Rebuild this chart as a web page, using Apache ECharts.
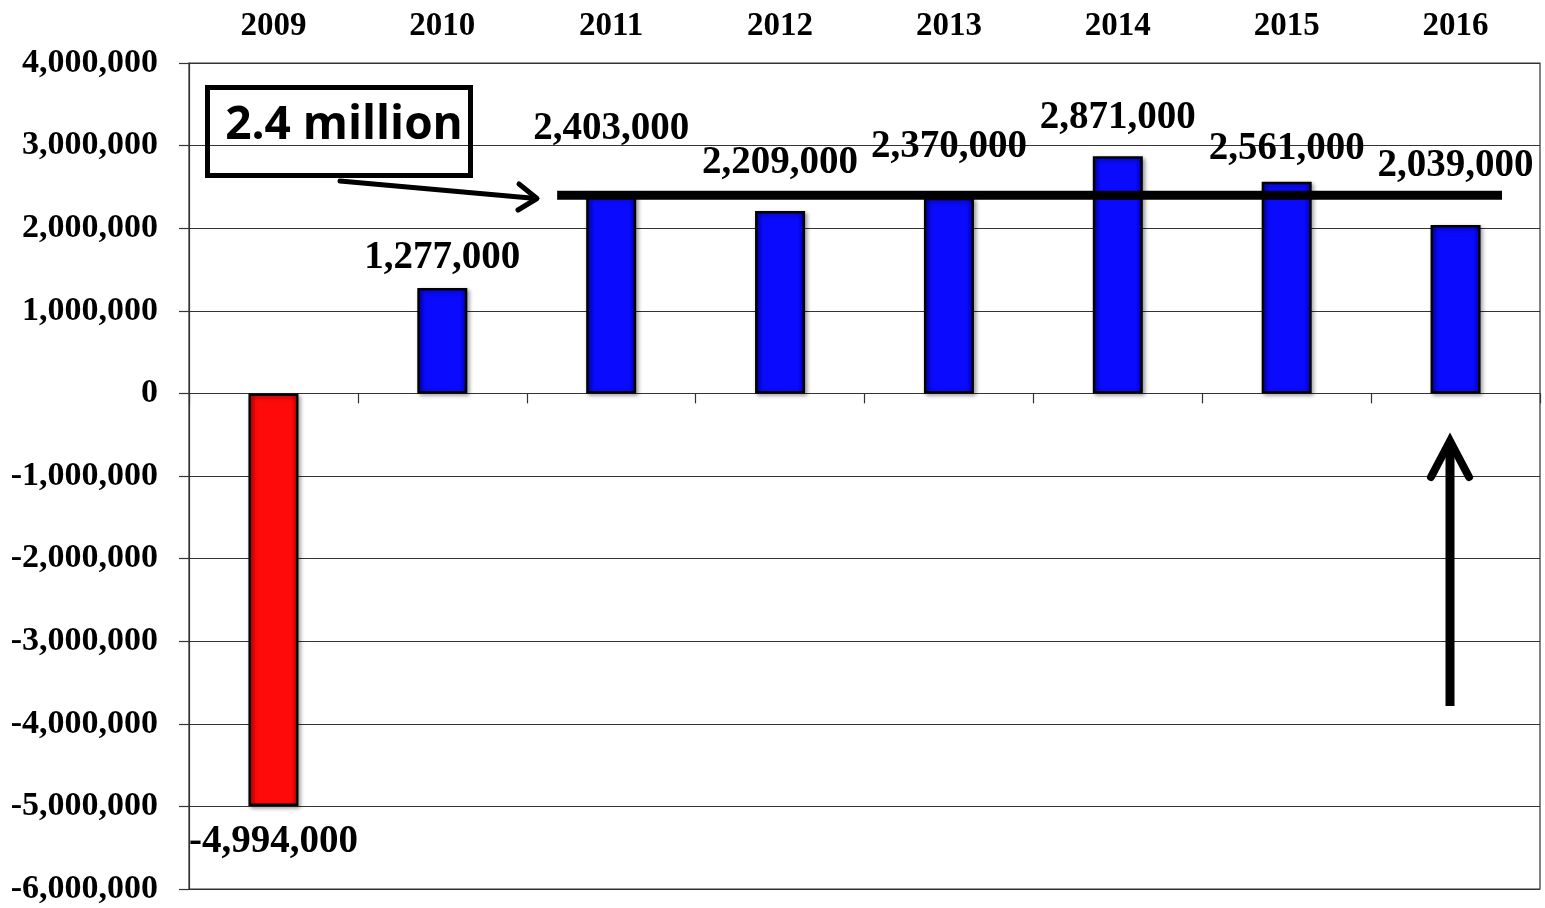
<!DOCTYPE html>
<html>
<head>
<meta charset="utf-8">
<script src="https://cdn.jsdelivr.net/npm/echarts@6/dist/echarts.min.js"></script>
<style>
  html, body { margin: 0; padding: 0; background: #fff; }
  #chart { width: 1545px; height: 908px; }
</style>
</head>
<body>
<div id="chart"></div>
<script>
// ---- data ----
const years = ['2009', '2010', '2011', '2012', '2013', '2014', '2015', '2016'];
const changes = [-4994000, 1277000, 2403000, 2209000, 2370000, 2871000, 2561000, 2039000];
const yTicks = { min: -6000000, max: 4000000, step: 1000000 };
const averageValue = 2400000;
const averageSpan = [2.18, 7.775];          // in category-index units
const annotationText = '2.4 million';

// ---- label nudges (style only) ----
const labelGap = [17, 10, 46, 29, 31, 19, 13, 40];

const fmt = v => Number(v).toLocaleString('en-US');
const serif = '"Liberation Serif", "Times New Roman", serif';

const chart = echarts.init(document.getElementById('chart'));

const barData = changes.map((v, i) => ({
  value: v,
  itemStyle: {
    color: v < 0
      ? new echarts.graphic.LinearGradient(0, 0, 1, 0, [
          { offset: 0, color: '#c00000' }, { offset: 0.15, color: '#ff0a0a' },
          { offset: 0.85, color: '#ff0a0a' }, { offset: 1, color: '#c00000' }])
      : new echarts.graphic.LinearGradient(0, 0, 1, 0, [
          { offset: 0, color: '#0000b8' }, { offset: 0.15, color: '#0a0aff' },
          { offset: 0.85, color: '#0a0aff' }, { offset: 1, color: '#0000b8' }])
  },
  label: {
    position: v < 0 ? 'bottom' : 'top',
    distance: labelGap[i]
  }
}));

const option = {
  backgroundColor: '#ffffff',
  animation: false,
  grid: {
    left: 189, right: 5, top: 63, bottom: 19,
    show: true, borderColor: '#333', borderWidth: 1.2, backgroundColor: 'transparent'
  },
  xAxis: [
    {
      type: 'category', data: years, position: 'top',
      axisLine: { show: false, onZero: false }, axisTick: { show: false },
      axisLabel: { fontFamily: serif, fontWeight: 'bold', fontSize: 33, color: '#000', margin: 20 },
      splitLine: { show: false }
    },
    {
      type: 'category', data: years, position: 'bottom',
      axisLine: { show: true, onZero: true, lineStyle: { color: '#333', width: 1.2 } },
      axisTick: { show: true, length: 10, lineStyle: { color: '#333', width: 1.2 } },
      axisLabel: { show: false }, splitLine: { show: false }
    },
    { type: 'value', min: 0, max: years.length, show: false }
  ],
  yAxis: {
    type: 'value', min: yTicks.min, max: yTicks.max, interval: yTicks.step,
    axisLine: { show: true, lineStyle: { color: '#333', width: 1.2 } },
    axisTick: { show: true, length: 10, lineStyle: { color: '#333', width: 1.2 } },
    axisLabel: { fontFamily: serif, fontWeight: 'bold', fontSize: 34, color: '#000', margin: 31, formatter: fmt },
    splitLine: { show: true, lineStyle: { color: '#333', width: 1.2 } }
  },
  series: [
    {
      type: 'bar', xAxisIndex: 0, data: barData, barWidth: 50,
      itemStyle: {
        borderColor: '#000', borderWidth: 2.5,
        shadowColor: 'rgba(0,0,0,0.35)', shadowBlur: 4, shadowOffsetX: 2, shadowOffsetY: 2
      },
      label: {
        show: true, fontFamily: serif, fontWeight: 'bold', fontSize: 39, color: '#000',
        formatter: p => fmt(p.value)
      },
      z: 2
    },
    {
      type: 'line', xAxisIndex: 2,
      data: averageSpan.map(x => [x, averageValue]),
      symbol: 'none', lineStyle: { color: '#000', width: 9 }, z: 5, silent: true
    }
  ],
  graphic: [
    {
      type: 'rect', shape: { x: 207.5, y: 87.5, width: 263, height: 88 },
      style: { fill: 'transparent', stroke: '#000', lineWidth: 5 }, z: 10
    },
    {
      type: 'text', x: 344, y: 126,
      style: {
        text: annotationText, fontFamily: '"Open Sans", Lato, sans-serif', fontWeight: 'bold',
        fontSize: 46, fill: '#000', align: 'center', verticalAlign: 'middle'
      }, z: 10
    },
    {
      type: 'polyline', shape: { points: [[340, 181], [536, 198.5]] },
      style: { stroke: '#000', lineWidth: 5, lineCap: 'round' }, z: 10
    },
    {
      type: 'polyline', shape: { points: [[519, 184], [537, 198.5], [518, 210]] },
      style: { stroke: '#000', fill: null, lineWidth: 5, lineCap: 'round', lineJoin: 'round' }, z: 10
    },
    {
      type: 'polyline', shape: { points: [[1450, 706], [1450, 442]] },
      style: { stroke: '#000', lineWidth: 9 }, z: 10
    },
    {
      type: 'polyline', shape: { points: [[1431, 477], [1450, 441], [1469, 477]] },
      style: { stroke: '#000', fill: null, lineWidth: 8, lineCap: 'round', lineJoin: 'miter' }, z: 10
    }
  ]
};

chart.setOption(option);
</script>
</body>
</html>
